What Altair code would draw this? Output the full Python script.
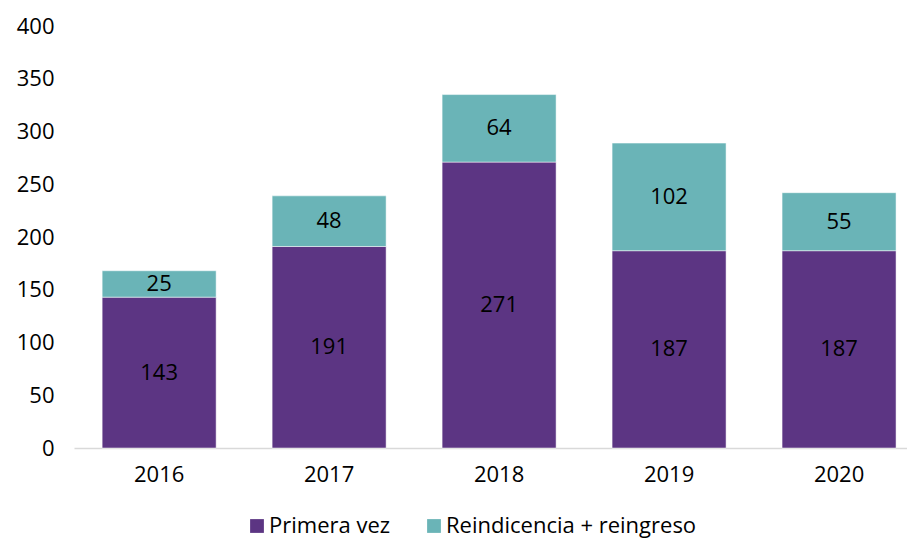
import altair as alt
import pandas as pd

years = ["2016", "2017", "2018", "2019", "2020"]
primera = [143, 191, 271, 187, 187]
reincidencia = [25, 48, 64, 102, 55]
series = ["Primera vez", "Reindicencia + reingreso"]
colors = ["#5C3583", "#6AB4B7"]

rows = []
for i, y in enumerate(years):
    rows.append({"year": y, "serie": series[0], "value": primera[i], "order": 0})
    rows.append({"year": y, "serie": series[1], "value": reincidencia[i], "order": 1})
df = pd.DataFrame(rows)

FONT = "Open Sans"

base = alt.Chart(df).transform_stack(
    stack="value", groupby=["year"], as_=["v0", "v1"],
    sort=[alt.SortField("order", order="ascending")]
).transform_calculate(mid="(datum.v0 + datum.v1) / 2")

xenc = alt.X("year:N", title=None, sort=years,
             scale=alt.Scale(paddingInner=0.3294, paddingOuter=0.115, align=0.72),
             axis=alt.Axis(labelAngle=0, ticks=False, domainColor="#d9d9d9",
                           domainWidth=1.5, labelPadding=16, labelFontSize=22,
                           labelFont=FONT, labelColor="#000000"))

bars = base.mark_bar(stroke="white", strokeWidth=0.5).encode(
    x=xenc,
    y=alt.Y("v0:Q", title=None,
            scale=alt.Scale(domain=[0, 400]),
            axis=alt.Axis(values=[0, 50, 100, 150, 200, 250, 300, 350, 400],
                          grid=False, domain=False, ticks=False, labelPadding=20,
                          labelFontSize=22, labelFont=FONT, labelColor="#000000")),
    y2="v1:Q",
    color=alt.Color("serie:N", sort=series,
                    scale=alt.Scale(domain=series, range=colors),
                    legend=alt.Legend(title=None, orient="none", direction="horizontal",
                                      legendX=172, legendY=489, symbolType="square",
                                      symbolSize=190, symbolStrokeWidth=0,
                                      labelFontSize=22, labelFont=FONT, labelLimit=0,
                                      labelColor="#000000", columnPadding=32,
                                      labelOffset=1, padding=0)),
)

labels = base.mark_text(fontSize=22, font=FONT, color="#000000").encode(
    x=alt.X("year:N", sort=years),
    y=alt.Y("mid:Q"),
    text=alt.Text("value:Q"),
)

chart = alt.layer(bars, labels).properties(
    width=833, height=422,
    autosize=alt.AutoSizeParams(type="none"),
    padding={"left": 66, "top": 18, "right": 0, "bottom": 92},
).configure_view(stroke=None)

chart.save("out.html", embed_options={"renderer": "svg", "actions": False})
